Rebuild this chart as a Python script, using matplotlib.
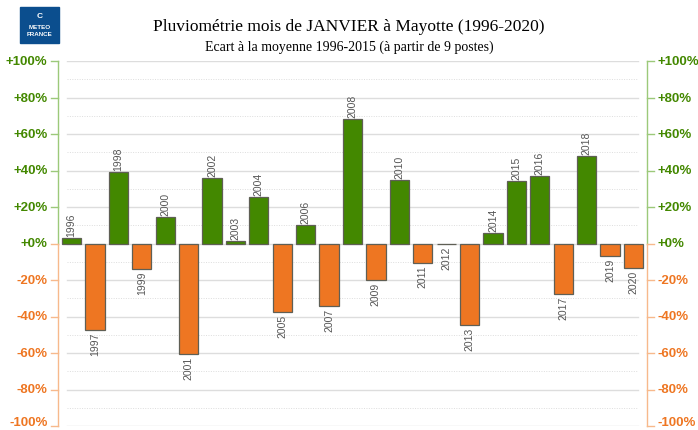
import matplotlib.pyplot as plt
from matplotlib.patches import Rectangle

years = list(range(1996, 2021))
ecart = [3.1, -47.3, 39.1, -14.0, 14.5, -60.4, 35.8, 1.3, 25.6, -37.5,
         10.4, -34.0, 68.2, -20.0, 34.7, -10.5, -0.4, -44.4, 5.6, 34.2,
         36.9, -27.6, 48.0, -6.7, -13.6]
ticks = [100, 80, 60, 40, 20, 0, -20, -40, -60, -80, -100]

GREEN = '#438800'
ORANGE = '#ee7622'
GREEN_L = '#9cc97a'
ORANGE_L = '#f7b98c'

plt.rcParams['font.family'] = ['Liberation Sans', 'DejaVu Sans']

fig = plt.figure(figsize=(6.98, 4.31), dpi=100)
ax = fig.add_axes([58/698, 4/431, 589/698, 365/431])
ax.set_xlim(-0.58, 24.58)
ax.set_ylim(-100, 100)

# grid
for v in range(-100, 101, 10):
    if v % 20 == 0:
        ax.axhline(v, xmin=0.015, xmax=0.985, color='#dddddd', lw=1.0, zorder=0)
    else:
        ax.axhline(v, xmin=0.015, xmax=0.985, color='#dddddd', lw=0.7, ls=(0, (1, 1.5)), zorder=0)

for i, (y, v) in enumerate(zip(years, ecart)):
    c = GREEN if v >= 0 else ORANGE
    ax.bar(i, v, width=0.82, color=c, edgecolor='#5f5f55', lw=0.9, zorder=2)
    if v >= 0:
        ax.text(i, v + 1, str(y), rotation=90, ha='center', va='bottom',
                fontsize=7.5, color='#555555')
    else:
        ax.text(i, v - 1, str(y), rotation=90, ha='center', va='top',
                fontsize=7.5, color='#555555')

for s in ax.spines.values():
    s.set_visible(False)
ax.set_xticks([])
ax.set_yticks([])

# left and right axes with coloured halves
for xa in (0, 1):
    ax.plot([xa, xa], [0.5, 1], transform=ax.transAxes, color=GREEN_L, lw=1, clip_on=False)
    ax.plot([xa, xa], [0, 0.5], transform=ax.transAxes, color=ORANGE_L, lw=1, clip_on=False)

tr = ax.get_yaxis_transform()
for t in ticks:
    col = GREEN if t >= 0 else ORANGE
    colL = GREEN_L if t > 0 else ORANGE_L
    lab = ('+%d%%' % t) if t >= 0 else ('%d%%' % t)
    ax.plot([-0.012, 0], [t, t], transform=tr, color=colL, lw=1, clip_on=False)
    ax.plot([1, 1.012], [t, t], transform=tr, color=colL, lw=1, clip_on=False)
    ty = t if t > -100 else -98
    ax.text(-0.018, ty, lab, transform=tr, ha='right', va='center',
            fontsize=9.5, fontweight='bold', color=col)
    ax.text(1.018, ty, lab, transform=tr, ha='left', va='center',
            fontsize=9.5, fontweight='bold', color=col)

fig.text(0.5, 1 - 27/431, 'Pluviométrie mois de JANVIER à Mayotte (1996-2020)',
         ha='center', va='center', fontsize=12.5, family='Liberation Serif')
fig.text(0.5, 1 - 47/431, 'Ecart à la moyenne 1996-2015 (à partir de 9 postes)',
         ha='center', va='center', fontsize=10, family='Liberation Serif')

# logo
fig.patches.append(Rectangle((20/698, 1 - 44/431), 39/698, 36/431,
                             transform=fig.transFigure, color='#0b4e8e'))
fig.text(39.5/698, 1 - 17/431, 'C', ha='center', va='center', fontsize=6,
         fontweight='bold', color='white')
fig.text(39.5/698, 1 - 28/431, 'METEO', ha='center', va='center', fontsize=4.5,
         fontweight='bold', color='white')
fig.text(39.5/698, 1 - 35/431, 'FRANCE', ha='center', va='center', fontsize=4.5,
         fontweight='bold', color='white')

fig.savefig('out.png', dpi=100)
